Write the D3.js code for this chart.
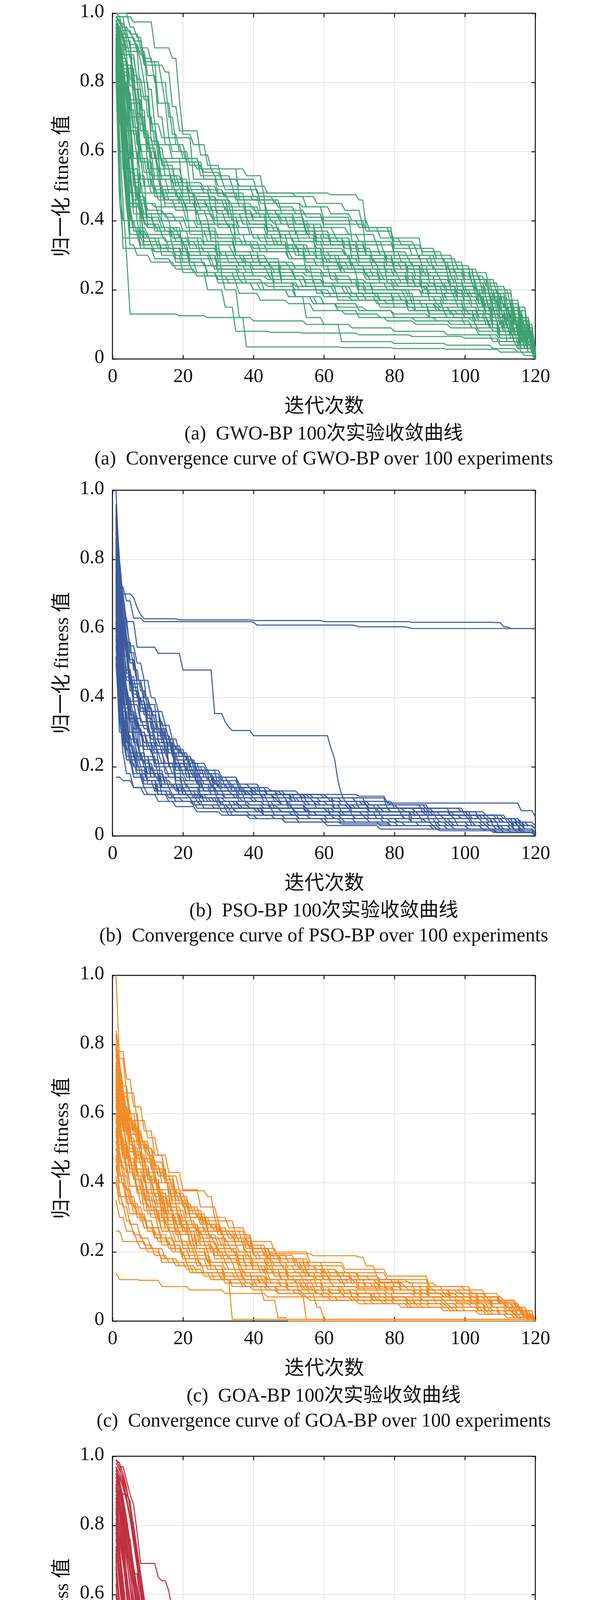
<!DOCTYPE html>
<html>
<head>
<meta charset="utf-8">
<script src="https://cdn.jsdelivr.net/npm/d3@7"></script>
<style>
  body { margin: 0; background: #fff; }
  svg { display: block; }
</style>
</head>
<body>
<svg id="chart" width="1575" height="6325"></svg>
<script>
// ---------- data ----------
const xTicks = [0, 20, 40, 60, 80, 100, 120];
const yTicks = [0, 0.2, 0.4, 0.6, 0.8, 1.0];
const yTickLabels = ["0", "0.2", "0.4", "0.6", "0.8", "1.0"];

// each run: [iteration, value, iteration, value, ...] at the steps of the curve
const gwoRuns = [
  [1,1.00, 2,0.99, 6,0.975, 12,0.90, 17,0.87, 19,0.75, 20,0.65, 23,0.62, 27,0.56, 31,0.52, 41,0.48, 62,0.475, 70,0.46, 72,0.38, 79,0.35, 88,0.30, 97,0.25, 103,0.22, 106,0.20, 113,0.15, 118,0.08, 120,0.02],
  [1,0.96, 3,0.93, 7,0.90, 9,0.85, 15,0.83, 17,0.73, 19,0.66, 25,0.59, 28,0.55, 38,0.53, 43,0.47, 55,0.44, 60,0.40, 72,0.37, 80,0.32, 87,0.29, 95,0.26, 103,0.20, 110,0.15, 116,0.10, 119,0.05, 120,0.02],
  [1,0.98, 3,0.92, 4,0.88, 7,0.80, 10,0.70, 12,0.62, 17,0.58, 22,0.50, 28,0.48, 38,0.42, 45,0.40, 55,0.36, 62,0.33, 70,0.29, 80,0.26, 88,0.24, 98,0.20, 105,0.17, 110,0.12, 116,0.06, 120,0.01],
  [1,0.95, 2,0.90, 3,0.75, 5,0.60, 8,0.52, 12,0.47, 20,0.44, 29,0.40, 36,0.38, 48,0.33, 56,0.30, 64,0.27, 72,0.24, 84,0.21, 94,0.17, 104,0.14, 112,0.10, 118,0.05, 120,0.01],
  [1,0.92, 2,0.85, 3,0.70, 4,0.55, 6,0.45, 9,0.40, 15,0.37, 22,0.33, 30,0.30, 42,0.27, 51,0.25, 60,0.22, 70,0.19, 82,0.17, 94,0.14, 103,0.11, 110,0.08, 116,0.04, 120,0.00],
  [1,0.97, 2,0.93, 3,0.88, 6,0.80, 8,0.72, 10,0.60, 12,0.52, 16,0.48, 24,0.46, 32,0.43, 40,0.40, 47,0.37, 58,0.34, 66,0.32, 74,0.28, 84,0.25, 93,0.23, 100,0.19, 108,0.15, 114,0.11, 119,0.04, 120,0.01],
  [1,0.90, 2,0.82, 3,0.65, 4,0.50, 5,0.40, 8,0.35, 13,0.32, 20,0.30, 28,0.27, 36,0.25, 45,0.23, 54,0.21, 63,0.19, 72,0.17, 84,0.15, 96,0.13, 106,0.10, 113,0.06, 118,0.03, 120,0.00],
  [1,0.99, 3,0.95, 4,0.93, 7,0.89, 10,0.82, 13,0.70, 15,0.62, 20,0.58, 25,0.53, 30,0.50, 35,0.46, 44,0.42, 52,0.39, 60,0.35, 68,0.31, 78,0.28, 86,0.24, 96,0.22, 104,0.18, 110,0.14, 116,0.08, 120,0.02],
  [1,0.94, 2,0.88, 3,0.80, 4,0.70, 6,0.58, 9,0.50, 13,0.46, 18,0.43, 25,0.39, 34,0.36, 42,0.34, 50,0.31, 58,0.29, 68,0.26, 76,0.23, 88,0.20, 98,0.17, 106,0.13, 112,0.09, 117,0.05, 120,0.01],
  [1,0.88, 2,0.78, 3,0.60, 4,0.45, 5,0.33, 7,0.30, 11,0.28, 18,0.26, 24,0.24, 33,0.22, 40,0.20, 52,0.18, 60,0.16, 70,0.14, 80,0.12, 92,0.11, 102,0.09, 110,0.06, 117,0.03, 120,0.00],
  [1,0.93, 2,0.90, 3,0.84, 5,0.75, 7,0.68, 10,0.62, 14,0.56, 18,0.50, 23,0.47, 30,0.45, 38,0.41, 48,0.39, 56,0.36, 64,0.34, 72,0.30, 80,0.27, 88,0.25, 96,0.21, 104,0.17, 110,0.12, 115,0.07, 119,0.03, 120,0.01],
  [1,0.85, 2,0.65, 3,0.45, 4,0.30, 5,0.13, 19,0.125, 27,0.12, 40,0.11, 55,0.10, 68,0.09, 80,0.08, 95,0.07, 108,0.05, 115,0.03, 120,0.00],
  [1,0.91, 2,0.84, 3,0.72, 4,0.60, 5,0.48, 8,0.41, 12,0.38, 17,0.35, 22,0.32, 30,0.29, 38,0.27, 46,0.25, 55,0.24, 64,0.22, 74,0.20, 83,0.18, 92,0.16, 100,0.14, 108,0.11, 114,0.08, 119,0.03, 120,0.01],
  [1,0.97, 2,0.95, 5,0.90, 8,0.86, 9,0.80, 11,0.66, 13,0.58, 16,0.55, 20,0.51, 26,0.49, 32,0.47, 40,0.46, 47,0.44, 52,0.42, 60,0.38, 67,0.36, 75,0.33, 85,0.30, 91,0.26, 100,0.23, 107,0.18, 112,0.14, 117,0.09, 120,0.03],
  [1,0.89, 2,0.80, 3,0.68, 4,0.55, 6,0.46, 9,0.42, 14,0.40, 20,0.37, 27,0.34, 35,0.30, 44,0.28, 52,0.26, 60,0.24, 68,0.22, 78,0.20, 88,0.18, 98,0.15, 104,0.12, 111,0.09, 116,0.05, 120,0.01],
  [1,0.95, 2,0.92, 3,0.85, 6,0.75, 9,0.65, 11,0.55, 14,0.49, 19,0.45, 24,0.42, 29,0.39, 36,0.36, 44,0.33, 53,0.30, 61,0.28, 69,0.25, 77,0.23, 86,0.21, 95,0.19, 102,0.16, 108,0.13, 114,0.10, 118,0.06, 120,0.02],
  [1,0.84, 2,0.72, 3,0.58, 4,0.46, 5,0.38, 8,0.33, 12,0.31, 18,0.28, 24,0.25, 30,0.22, 36,0.19, 42,0.17, 50,0.16, 57,0.14, 66,0.13, 76,0.12, 86,0.11, 96,0.10, 104,0.08, 110,0.06, 116,0.03, 120,0.00],
  [1,0.98, 2,0.96, 3,0.94, 5,0.91, 8,0.88, 10,0.78, 12,0.68, 14,0.64, 17,0.60, 21,0.57, 26,0.52, 30,0.48, 36,0.44, 42,0.41, 50,0.38, 58,0.35, 66,0.33, 72,0.30, 78,0.28, 84,0.26, 90,0.24, 97,0.22, 103,0.19, 108,0.16, 113,0.12, 117,0.07, 120,0.02],
  [1,0.90, 2,0.86, 3,0.78, 4,0.66, 5,0.55, 7,0.47, 10,0.43, 15,0.41, 21,0.38, 28,0.36, 35,0.34, 42,0.31, 50,0.29, 58,0.27, 66,0.25, 72,0.23, 80,0.21, 90,0.19, 100,0.17, 107,0.14, 112,0.10, 117,0.05, 120,0.01],
  [1,0.93, 2,0.88, 3,0.80, 4,0.68, 6,0.55, 8,0.45, 10,0.39, 14,0.36, 20,0.33, 26,0.31, 33,0.28, 40,0.26, 48,0.24, 55,0.22, 63,0.21, 72,0.19, 80,0.17, 88,0.15, 96,0.13, 104,0.11, 111,0.08, 116,0.05, 120,0.01],
  [1,0.96, 2,0.91, 3,0.86, 5,0.79, 7,0.71, 9,0.64, 12,0.58, 15,0.53, 20,0.50, 26,0.48, 33,0.45, 40,0.43, 47,0.41, 55,0.37, 62,0.34, 70,0.31, 78,0.29, 85,0.27, 92,0.25, 100,0.22, 106,0.19, 111,0.15, 116,0.10, 119,0.05, 120,0.02],
  [1,0.87, 2,0.76, 3,0.62, 4,0.50, 5,0.42, 6,0.37, 10,0.35, 16,0.32, 22,0.30, 30,0.27, 38,0.25, 46,0.22, 53,0.20, 60,0.18, 68,0.17, 76,0.15, 86,0.14, 95,0.12, 103,0.10, 110,0.07, 116,0.04, 120,0.00],
  [1,0.99, 2,0.97, 4,0.95, 6,0.92, 9,0.87, 12,0.80, 15,0.74, 17,0.65, 19,0.60, 22,0.56, 26,0.54, 31,0.52, 36,0.50, 44,0.48, 52,0.47, 58,0.45, 66,0.43, 71,0.38, 76,0.35, 82,0.33, 88,0.31, 94,0.28, 100,0.24, 106,0.21, 112,0.17, 116,0.12, 119,0.06, 120,0.02],
  [1,0.92, 2,0.87, 3,0.82, 4,0.74, 6,0.65, 8,0.57, 11,0.50, 15,0.46, 21,0.44, 28,0.41, 36,0.38, 44,0.35, 52,0.32, 60,0.30, 68,0.27, 76,0.25, 84,0.22, 92,0.20, 100,0.18, 106,0.15, 111,0.12, 116,0.07, 120,0.02],
  [1,0.85, 2,0.74, 3,0.60, 4,0.48, 5,0.40, 7,0.36, 11,0.33, 16,0.31, 22,0.29, 29,0.26, 36,0.23, 43,0.20, 50,0.18, 57,0.16, 64,0.15, 72,0.14, 80,0.13, 90,0.12, 100,0.10, 108,0.08, 114,0.05, 119,0.02, 120,0.00],
  [1,0.94, 2,0.89, 3,0.82, 5,0.72, 7,0.62, 9,0.54, 12,0.49, 16,0.46, 21,0.43, 27,0.40, 33,0.38, 40,0.35, 47,0.33, 55,0.31, 62,0.29, 70,0.27, 78,0.25, 86,0.23, 94,0.21, 101,0.18, 107,0.14, 112,0.11, 117,0.06, 120,0.01],
  [1,0.90, 2,0.83, 3,0.74, 4,0.63, 5,0.52, 6,0.44, 9,0.39, 13,0.37, 18,0.34, 24,0.32, 31,0.30, 38,0.28, 45,0.26, 52,0.23, 60,0.21, 67,0.19, 75,0.18, 84,0.16, 93,0.15, 101,0.13, 108,0.10, 114,0.07, 118,0.04, 120,0.01],
  [1,0.97, 2,0.94, 3,0.90, 4,0.85, 6,0.78, 8,0.70, 10,0.61, 13,0.55, 17,0.51, 22,0.48, 28,0.46, 34,0.44, 41,0.42, 48,0.40, 56,0.38, 63,0.36, 70,0.34, 77,0.31, 84,0.29, 90,0.27, 96,0.25, 102,0.22, 107,0.19, 112,0.16, 116,0.11, 119,0.05, 120,0.02],
  [1,0.88, 2,0.80, 3,0.66, 4,0.53, 5,0.43, 6,0.37, 9,0.34, 14,0.32, 20,0.28, 27,0.25, 35,0.22, 42,0.20, 50,0.18, 58,0.16, 64,0.14, 70,0.12, 78,0.11, 86,0.10, 96,0.09, 104,0.07, 110,0.05, 116,0.03, 120,0.00],
  [1,0.95, 2,0.91, 3,0.87, 5,0.81, 7,0.74, 9,0.66, 11,0.58, 14,0.52, 18,0.47, 24,0.44, 30,0.42, 37,0.39, 44,0.37, 51,0.34, 58,0.32, 66,0.30, 74,0.28, 82,0.26, 89,0.24, 96,0.22, 103,0.20, 109,0.16, 114,0.12, 118,0.07, 120,0.02],
  [1,0.91, 2,0.85, 3,0.76, 4,0.65, 5,0.54, 7,0.46, 10,0.41, 14,0.38, 19,0.35, 26,0.33, 34,0.31, 40,0.28, 48,0.26, 56,0.25, 64,0.23, 72,0.22, 80,0.20, 88,0.19, 95,0.17, 102,0.15, 108,0.12, 113,0.09, 118,0.04, 120,0.01],
  [1,0.89, 2,0.80, 3,0.67, 4,0.52, 6,0.42, 9,0.35, 14,0.30, 20,0.25, 27,0.20, 32,0.15, 35,0.08, 45,0.077, 54,0.075, 70,0.07, 85,0.065, 100,0.06, 110,0.04, 116,0.02, 120,0.00],
  [1,0.93, 2,0.86, 3,0.76, 4,0.62, 6,0.50, 8,0.42, 12,0.37, 17,0.33, 22,0.28, 27,0.24, 32,0.20, 36,0.12, 38,0.035, 65,0.033, 80,0.03, 95,0.028, 110,0.02, 117,0.01, 120,0.00],
  [1,0.96, 2,0.92, 3,0.86, 4,0.77, 6,0.67, 8,0.58, 11,0.50, 15,0.44, 21,0.40, 28,0.35, 35,0.31, 42,0.27, 48,0.22, 52,0.18, 55,0.12, 60,0.10, 65,0.05, 80,0.045, 95,0.04, 108,0.03, 115,0.02, 120,0.00],
  [1,0.98, 2,0.95, 3,0.92, 5,0.87, 7,0.81, 9,0.75, 11,0.68, 13,0.61, 15,0.55, 18,0.50, 22,0.46, 27,0.44, 33,0.41, 39,0.39, 46,0.37, 53,0.34, 60,0.31, 67,0.29, 74,0.26, 81,0.24, 88,0.22, 95,0.20, 102,0.18, 108,0.15, 113,0.11, 117,0.07, 120,0.02],
  [1,0.86, 2,0.73, 3,0.56, 4,0.44, 5,0.36, 8,0.32, 12,0.29, 17,0.27, 23,0.25, 30,0.23, 37,0.22, 44,0.21, 52,0.20, 60,0.19, 68,0.18, 76,0.17, 84,0.16, 92,0.15, 100,0.14, 106,0.12, 112,0.09, 117,0.05, 120,0.01],
  [1,0.94, 2,0.90, 3,0.84, 4,0.76, 5,0.66, 7,0.58, 10,0.52, 14,0.48, 19,0.46, 25,0.43, 32,0.40, 39,0.36, 46,0.33, 53,0.31, 60,0.28, 67,0.26, 74,0.24, 82,0.22, 90,0.21, 98,0.19, 104,0.16, 110,0.13, 115,0.09, 119,0.04, 120,0.01],
  [1,0.92, 2,0.86, 3,0.79, 4,0.70, 5,0.60, 6,0.51, 9,0.45, 13,0.42, 18,0.40, 24,0.38, 30,0.35, 37,0.33, 44,0.31, 51,0.29, 58,0.27, 65,0.25, 73,0.23, 81,0.21, 89,0.20, 97,0.18, 104,0.16, 110,0.12, 115,0.08, 119,0.03, 120,0.01],
  [1,0.99, 2,0.98, 3,0.96, 5,0.94, 8,0.90, 11,0.86, 14,0.80, 16,0.70, 18,0.62, 21,0.58, 25,0.55, 29,0.53, 34,0.50, 40,0.47, 46,0.45, 54,0.44, 62,0.42, 68,0.40, 73,0.37, 80,0.34, 86,0.32, 92,0.29, 98,0.26, 104,0.23, 109,0.19, 114,0.14, 118,0.08, 120,0.03],
  [1,0.87, 2,0.77, 3,0.64, 4,0.52, 5,0.44, 6,0.38, 10,0.36, 15,0.34, 21,0.31, 28,0.29, 36,0.27, 44,0.25, 52,0.23, 60,0.21, 68,0.19, 76,0.17, 84,0.16, 92,0.14, 100,0.12, 107,0.10, 113,0.07, 118,0.03, 120,0.00],
  [1,0.93, 3,0.55, 8,0.50, 20,0.47, 30,0.38, 48,0.35, 58,0.29, 75,0.27, 88,0.19, 105,0.15, 113,0.10, 118,0.04, 120,0.01],
  [1,0.97, 2,0.88, 5,0.72, 7,0.62, 14,0.40, 26,0.33, 40,0.31, 55,0.25, 70,0.21, 90,0.17, 100,0.13, 110,0.12, 116,0.05, 120,0.01],
  [1,0.89, 2,0.60, 5,0.45, 12,0.44, 22,0.36, 38,0.33, 50,0.29, 62,0.28, 78,0.22, 90,0.21, 104,0.18, 111,0.09, 117,0.03, 120,0.00],
  [1,0.99, 4,0.92, 6,0.78, 9,0.64, 12,0.58, 20,0.48, 32,0.47, 44,0.37, 56,0.35, 66,0.30, 80,0.25, 96,0.20, 106,0.13, 114,0.07, 120,0.01],
  [1,0.86, 2,0.58, 3,0.32, 12,0.31, 22,0.27, 30,0.26, 46,0.20, 62,0.18, 75,0.16, 90,0.13, 103,0.11, 112,0.05, 118,0.02, 120,0.00],
  [1,0.95, 3,0.80, 5,0.66, 8,0.48, 15,0.45, 27,0.44, 35,0.33, 52,0.30, 65,0.26, 80,0.24, 92,0.19, 105,0.16, 112,0.13, 117,0.06, 120,0.01],
  [1,0.92, 2,0.70, 4,0.60, 6,0.53, 10,0.38, 18,0.37, 30,0.28, 45,0.27, 57,0.22, 72,0.20, 85,0.16, 100,0.14, 110,0.10, 116,0.05, 120,0.00],
  [1,1.00, 5,0.96, 7,0.93, 9,0.86, 13,0.74, 16,0.64, 23,0.52, 32,0.49, 42,0.45, 54,0.40, 70,0.38, 80,0.29, 95,0.25, 107,0.20, 114,0.12, 119,0.05, 120,0.02],
  [1,0.84, 2,0.50, 3,0.40, 10,0.38, 20,0.31, 35,0.29, 48,0.23, 60,0.22, 74,0.19, 86,0.14, 98,0.13, 108,0.09, 115,0.04, 120,0.00],
  [1,0.96, 2,0.91, 4,0.84, 7,0.70, 10,0.55, 17,0.49, 28,0.43, 40,0.41, 52,0.36, 60,0.33, 76,0.30, 88,0.26, 98,0.23, 108,0.17, 114,0.10, 119,0.04, 120,0.01],
  [1,0.90, 2,0.74, 3,0.55, 7,0.40, 17,0.35, 25,0.30, 37,0.28, 50,0.27, 62,0.23, 70,0.20, 84,0.18, 94,0.16, 106,0.13, 113,0.08, 118,0.03, 120,0.00],
  [1,0.98, 2,0.93, 4,0.89, 8,0.76, 11,0.63, 14,0.57, 24,0.55, 36,0.46, 48,0.42, 60,0.39, 72,0.31, 82,0.28, 96,0.24, 105,0.19, 111,0.15, 116,0.09, 120,0.02],
  [1,0.88, 2,0.68, 4,0.45, 8,0.42, 16,0.40, 28,0.34, 40,0.32, 55,0.28, 65,0.25, 76,0.22, 88,0.20, 100,0.15, 109,0.11, 116,0.06, 120,0.01],
  [1,0.94, 2,0.87, 3,0.76, 5,0.58, 8,0.36, 20,0.34, 31,0.24, 44,0.23, 58,0.19, 70,0.17, 84,0.14, 97,0.12, 107,0.09, 114,0.05, 120,0.00],
  [1,0.91, 3,0.85, 5,0.74, 8,0.60, 13,0.52, 22,0.45, 34,0.40, 46,0.39, 58,0.34, 68,0.29, 78,0.27, 90,0.22, 100,0.19, 109,0.14, 115,0.09, 119,0.03, 120,0.01],
  [1,0.82, 2,0.46, 3,0.35, 9,0.33, 18,0.29, 26,0.27, 40,0.24, 55,0.21, 66,0.19, 80,0.15, 93,0.14, 104,0.12, 111,0.08, 117,0.03, 120,0.00],
  [1,0.97, 2,0.94, 4,0.90, 6,0.82, 8,0.66, 11,0.53, 19,0.50, 30,0.47, 42,0.43, 55,0.41, 68,0.34, 80,0.30, 92,0.27, 102,0.22, 110,0.16, 116,0.10, 120,0.02],
  [1,0.93, 2,0.82, 4,0.66, 6,0.52, 11,0.48, 24,0.39, 35,0.36, 50,0.32, 60,0.26, 72,0.24, 86,0.21, 98,0.18, 108,0.14, 114,0.08, 119,0.03, 120,0.00],
  [1,0.87, 2,0.72, 3,0.58, 5,0.44, 9,0.32, 18,0.30, 30,0.25, 38,0.22, 52,0.21, 64,0.17, 78,0.16, 90,0.12, 102,0.11, 110,0.07, 116,0.03, 120,0.00],
  [1,0.95, 2,0.90, 3,0.83, 5,0.70, 8,0.57, 12,0.48, 20,0.46, 33,0.42, 44,0.36, 58,0.33, 70,0.28, 84,0.23, 96,0.21, 106,0.18, 112,0.12, 117,0.07, 120,0.01]
];

const psoRuns = [
  [1,1.00, 2,0.76, 3,0.70, 6,0.69, 7,0.66, 8,0.64, 9,0.628, 19,0.625, 40,0.623, 60,0.62, 85,0.618, 109,0.617, 111,0.605, 113,0.60, 120,0.60],
  [1,0.90, 2,0.72, 4,0.68, 6,0.63, 9,0.62, 40,0.618, 41,0.61, 69,0.608, 70,0.605, 84,0.603, 85,0.60, 120,0.60],
  [1,0.95, 2,0.70, 4,0.62, 7,0.546, 13,0.528, 20,0.48, 29,0.354, 32,0.33, 33,0.315, 34,0.305, 40,0.29, 62,0.254, 63,0.224, 64,0.16, 65,0.12, 70,0.115, 78,0.095, 116,0.073, 120,0.056],
  [1,0.92, 2,0.60, 3,0.45, 4,0.38, 6,0.30, 9,0.25, 12,0.20, 16,0.17, 21,0.14, 28,0.12, 36,0.10, 46,0.08, 56,0.06, 69,0.05, 81,0.04, 96,0.03, 111,0.02, 120,0.01],
  [1,0.85, 2,0.55, 3,0.40, 5,0.30, 7,0.22, 10,0.18, 14,0.15, 19,0.12, 26,0.10, 34,0.08, 43,0.06, 53,0.05, 66,0.04, 81,0.03, 101,0.02, 116,0.01, 120,0.00],
  [1,0.78, 2,0.62, 3,0.52, 4,0.45, 6,0.38, 8,0.33, 11,0.28, 14,0.24, 18,0.21, 23,0.18, 29,0.15, 35,0.13, 41,0.12, 51,0.10, 61,0.09, 73,0.07, 86,0.06, 99,0.05, 109,0.04, 116,0.03, 120,0.02],
  [1,0.70, 2,0.50, 3,0.36, 5,0.26, 7,0.20, 10,0.16, 13,0.13, 17,0.11, 23,0.09, 31,0.07, 39,0.06, 49,0.05, 61,0.04, 76,0.03, 91,0.02, 106,0.015, 120,0.01],
  [1,0.88, 2,0.68, 3,0.58, 4,0.52, 5,0.46, 7,0.40, 9,0.35, 12,0.30, 15,0.26, 18,0.22, 21,0.19, 25,0.16, 30,0.14, 36,0.12, 43,0.10, 51,0.08, 61,0.07, 71,0.06, 83,0.05, 96,0.04, 107,0.03, 116,0.02, 120,0.01],
  [1,0.65, 2,0.45, 3,0.32, 4,0.25, 6,0.20, 9,0.16, 12,0.13, 16,0.11, 20,0.10, 26,0.08, 33,0.06, 41,0.05, 53,0.04, 65,0.035, 79,0.03, 93,0.02, 109,0.01, 120,0.005],
  [1,0.80, 2,0.66, 3,0.55, 4,0.48, 6,0.42, 8,0.37, 10,0.33, 13,0.29, 16,0.26, 19,0.23, 22,0.20, 26,0.17, 31,0.15, 37,0.13, 44,0.12, 51,0.11, 59,0.10, 67,0.09, 76,0.08, 86,0.07, 96,0.06, 104,0.05, 111,0.04, 117,0.03, 120,0.02],
  [1,0.75, 2,0.55, 3,0.42, 4,0.34, 6,0.28, 8,0.23, 11,0.19, 15,0.15, 20,0.12, 26,0.10, 32,0.08, 41,0.07, 51,0.06, 63,0.05, 77,0.04, 91,0.03, 105,0.02, 115,0.01, 120,0.00],
  [1,0.90, 2,0.72, 3,0.62, 4,0.55, 5,0.50, 7,0.44, 9,0.40, 11,0.36, 14,0.30, 16,0.24, 19,0.20, 22,0.17, 26,0.15, 31,0.13, 38,0.12, 46,0.10, 56,0.09, 67,0.08, 79,0.07, 91,0.06, 101,0.05, 109,0.04, 115,0.03, 120,0.02],
  [1,0.60, 2,0.40, 3,0.28, 4,0.22, 6,0.17, 9,0.14, 13,0.12, 18,0.10, 25,0.09, 33,0.08, 43,0.07, 53,0.06, 65,0.05, 79,0.04, 93,0.03, 107,0.02, 117,0.01, 120,0.00],
  [1,0.82, 2,0.70, 3,0.60, 4,0.53, 5,0.47, 6,0.42, 8,0.38, 10,0.34, 12,0.31, 15,0.28, 18,0.25, 21,0.22, 24,0.19, 27,0.16, 31,0.14, 37,0.12, 43,0.11, 51,0.10, 59,0.09, 68,0.08, 77,0.07, 87,0.06, 97,0.05, 105,0.04, 113,0.03, 120,0.02],
  [1,0.72, 2,0.52, 3,0.40, 4,0.33, 5,0.28, 7,0.24, 9,0.21, 12,0.18, 15,0.15, 19,0.13, 24,0.11, 30,0.09, 37,0.08, 46,0.06, 56,0.05, 69,0.04, 83,0.03, 97,0.02, 111,0.01, 120,0.00],
  [1,0.95, 2,0.75, 3,0.64, 4,0.56, 6,0.48, 8,0.42, 10,0.37, 12,0.33, 15,0.29, 17,0.26, 20,0.23, 23,0.20, 27,0.18, 31,0.16, 36,0.14, 41,0.13, 48,0.12, 56,0.11, 63,0.10, 71,0.09, 81,0.08, 91,0.07, 101,0.06, 109,0.05, 115,0.04, 118,0.03, 120,0.02],
  [1,0.55, 2,0.38, 3,0.30, 5,0.24, 7,0.20, 10,0.18, 13,0.16, 17,0.14, 21,0.12, 26,0.11, 32,0.10, 39,0.09, 47,0.08, 56,0.07, 66,0.06, 77,0.05, 89,0.04, 101,0.03, 111,0.02, 120,0.01],
  [1,0.86, 2,0.64, 3,0.50, 4,0.42, 5,0.36, 7,0.31, 9,0.27, 11,0.24, 14,0.21, 17,0.18, 21,0.16, 25,0.14, 30,0.12, 35,0.11, 41,0.10, 48,0.09, 55,0.08, 63,0.07, 73,0.06, 83,0.05, 93,0.04, 103,0.03, 113,0.02, 120,0.01],
  [1,0.68, 2,0.48, 3,0.36, 4,0.29, 6,0.24, 8,0.20, 11,0.17, 14,0.15, 18,0.13, 23,0.11, 29,0.10, 36,0.09, 45,0.08, 55,0.07, 65,0.06, 77,0.05, 89,0.04, 101,0.03, 113,0.02, 120,0.01],
  [1,0.77, 2,0.63, 3,0.54, 4,0.48, 6,0.43, 8,0.39, 10,0.35, 13,0.31, 15,0.28, 17,0.24, 19,0.20, 22,0.17, 25,0.15, 29,0.13, 34,0.12, 40,0.11, 47,0.10, 55,0.09, 63,0.08, 73,0.07, 85,0.06, 97,0.05, 107,0.04, 115,0.03, 120,0.02],
  [1,0.64, 2,0.44, 3,0.31, 4,0.23, 6,0.18, 9,0.15, 13,0.12, 18,0.10, 23,0.09, 29,0.08, 35,0.07, 43,0.06, 53,0.05, 65,0.04, 79,0.03, 95,0.02, 109,0.01, 120,0.00],
  [1,0.91, 2,0.78, 3,0.67, 4,0.58, 5,0.51, 7,0.45, 9,0.40, 11,0.36, 14,0.32, 16,0.28, 18,0.25, 21,0.22, 24,0.19, 28,0.17, 33,0.15, 39,0.14, 45,0.13, 53,0.12, 61,0.11, 69,0.10, 79,0.09, 89,0.08, 99,0.07, 106,0.06, 111,0.05, 116,0.04, 120,0.03],
  [1,0.58, 2,0.42, 3,0.33, 4,0.27, 6,0.23, 9,0.20, 12,0.17, 16,0.14, 21,0.12, 27,0.10, 34,0.08, 42,0.07, 51,0.06, 61,0.05, 73,0.04, 87,0.03, 101,0.02, 113,0.01, 120,0.00],
  [1,0.74, 2,0.57, 3,0.47, 4,0.40, 5,0.35, 7,0.30, 9,0.27, 12,0.24, 15,0.21, 19,0.19, 23,0.17, 28,0.15, 34,0.13, 41,0.12, 49,0.11, 57,0.10, 65,0.09, 73,0.08, 83,0.07, 93,0.06, 101,0.05, 109,0.04, 117,0.03, 120,0.02],
  [1,0.83, 2,0.58, 3,0.43, 4,0.34, 6,0.27, 8,0.22, 11,0.18, 15,0.15, 19,0.13, 25,0.11, 31,0.09, 39,0.08, 48,0.07, 58,0.06, 69,0.05, 81,0.04, 95,0.03, 109,0.02, 120,0.01],
  [1,0.69, 2,0.54, 3,0.46, 4,0.40, 6,0.34, 8,0.30, 10,0.27, 13,0.24, 16,0.21, 20,0.18, 24,0.15, 28,0.13, 32,0.11, 37,0.10, 43,0.09, 51,0.08, 61,0.07, 71,0.06, 83,0.05, 95,0.04, 107,0.03, 117,0.02, 120,0.01],
  [1,0.62, 2,0.36, 3,0.24, 4,0.18, 6,0.14, 9,0.12, 13,0.10, 18,0.085, 24,0.07, 31,0.06, 39,0.05, 49,0.04, 61,0.03, 76,0.02, 93,0.015, 109,0.01, 120,0.005],
  [1,0.88, 2,0.71, 3,0.60, 4,0.52, 5,0.46, 6,0.41, 8,0.37, 10,0.34, 12,0.31, 14,0.28, 17,0.25, 20,0.23, 23,0.21, 27,0.19, 31,0.17, 36,0.15, 42,0.13, 49,0.12, 57,0.11, 65,0.10, 73,0.09, 81,0.08, 89,0.07, 97,0.06, 105,0.05, 111,0.04, 117,0.03, 120,0.02],
  [1,0.50, 2,0.34, 3,0.26, 5,0.21, 7,0.18, 10,0.16, 14,0.14, 19,0.12, 25,0.10, 31,0.09, 39,0.08, 48,0.07, 58,0.06, 69,0.05, 81,0.04, 93,0.03, 105,0.02, 115,0.01, 120,0.00],
  [1,0.79, 2,0.61, 3,0.50, 4,0.43, 5,0.38, 7,0.34, 9,0.31, 11,0.28, 13,0.26, 15,0.24, 18,0.21, 21,0.19, 25,0.17, 29,0.15, 34,0.13, 39,0.12, 46,0.11, 53,0.10, 61,0.09, 69,0.08, 79,0.07, 89,0.06, 99,0.05, 107,0.04, 114,0.03, 120,0.02],
  [1,0.66, 2,0.47, 3,0.35, 4,0.28, 5,0.23, 7,0.19, 10,0.16, 13,0.14, 17,0.12, 22,0.11, 28,0.10, 35,0.09, 43,0.08, 52,0.07, 62,0.06, 73,0.05, 85,0.04, 97,0.03, 109,0.02, 117,0.01, 120,0.00],
  [1,0.96, 2,0.80, 3,0.69, 4,0.61, 5,0.55, 7,0.50, 9,0.45, 11,0.40, 13,0.36, 15,0.32, 17,0.28, 19,0.24, 22,0.21, 25,0.18, 29,0.16, 34,0.14, 40,0.13, 47,0.12, 54,0.11, 62,0.10, 71,0.09, 81,0.08, 91,0.07, 101,0.06, 107,0.05, 113,0.04, 118,0.03, 120,0.02],
  [1,0.17, 3,0.16, 6,0.14, 10,0.12, 16,0.10, 24,0.08, 34,0.06, 46,0.05, 60,0.04, 76,0.03, 92,0.02, 108,0.01, 120,0.00],
  [1,0.74, 2,0.42, 4,0.30, 8,0.22, 14,0.14, 25,0.12, 38,0.09, 55,0.07, 75,0.05, 98,0.03, 114,0.02, 120,0.01],
  [1,0.88, 2,0.58, 3,0.46, 6,0.40, 11,0.31, 16,0.20, 24,0.15, 33,0.13, 47,0.11, 63,0.08, 82,0.06, 102,0.04, 114,0.02, 120,0.01],
  [1,0.62, 2,0.33, 5,0.24, 10,0.15, 22,0.13, 30,0.10, 45,0.08, 62,0.06, 85,0.04, 105,0.03, 116,0.01, 120,0.00],
  [1,0.81, 2,0.66, 3,0.57, 5,0.45, 9,0.38, 13,0.27, 18,0.19, 28,0.17, 36,0.13, 48,0.12, 66,0.10, 80,0.08, 100,0.06, 112,0.04, 118,0.03, 120,0.02],
  [1,0.70, 2,0.52, 3,0.38, 6,0.30, 10,0.25, 15,0.18, 25,0.11, 40,0.10, 58,0.08, 76,0.06, 94,0.05, 108,0.03, 117,0.02, 120,0.01],
  [1,0.93, 2,0.69, 3,0.55, 5,0.44, 8,0.36, 12,0.28, 17,0.23, 22,0.19, 30,0.14, 42,0.12, 55,0.10, 72,0.09, 88,0.07, 104,0.05, 115,0.03, 120,0.02],
  [1,0.57, 2,0.41, 4,0.34, 7,0.26, 12,0.20, 20,0.12, 32,0.11, 48,0.09, 68,0.07, 90,0.04, 110,0.02, 120,0.01],
  [1,0.76, 2,0.50, 3,0.41, 5,0.34, 8,0.29, 13,0.21, 20,0.18, 28,0.14, 38,0.12, 52,0.10, 70,0.08, 90,0.06, 106,0.05, 116,0.03, 120,0.02],
  [1,0.84, 2,0.62, 3,0.52, 5,0.42, 8,0.33, 12,0.25, 18,0.16, 26,0.13, 36,0.11, 50,0.09, 65,0.07, 85,0.05, 102,0.03, 114,0.02, 120,0.00],
  [1,0.67, 2,0.46, 3,0.37, 6,0.31, 9,0.23, 13,0.17, 20,0.14, 30,0.12, 44,0.10, 58,0.09, 75,0.07, 92,0.05, 108,0.04, 117,0.02, 120,0.01],
  [1,0.90, 2,0.74, 3,0.63, 5,0.53, 7,0.45, 10,0.36, 14,0.27, 18,0.22, 24,0.17, 32,0.14, 44,0.12, 60,0.11, 78,0.08, 96,0.06, 110,0.04, 118,0.03, 120,0.02],
  [1,0.52, 2,0.30, 4,0.22, 8,0.17, 14,0.12, 24,0.10, 36,0.08, 52,0.06, 72,0.05, 92,0.03, 110,0.02, 120,0.01],
  [1,0.79, 2,0.57, 4,0.47, 6,0.39, 10,0.30, 15,0.24, 21,0.17, 29,0.13, 40,0.12, 54,0.10, 70,0.08, 86,0.07, 102,0.05, 114,0.03, 120,0.02],
  [1,0.71, 2,0.49, 3,0.40, 5,0.33, 8,0.26, 12,0.21, 18,0.15, 26,0.13, 36,0.11, 50,0.08, 68,0.06, 88,0.04, 106,0.03, 116,0.01, 120,0.00],
  [1,0.86, 2,0.65, 3,0.49, 4,0.39, 7,0.32, 11,0.26, 16,0.21, 22,0.16, 30,0.14, 40,0.12, 55,0.11, 72,0.09, 90,0.07, 104,0.05, 114,0.03, 120,0.02]
];

const goaRuns = [
  [1,1.00, 2,0.75, 3,0.68, 5,0.60, 8,0.52, 11,0.45, 14,0.40, 18,0.34, 22,0.30, 27,0.26, 32,0.22, 38,0.18, 44,0.15, 50,0.12, 57,0.10, 65,0.08, 75,0.06, 85,0.05, 95,0.04, 105,0.03, 112,0.02, 117,0.01, 120,0.00],
  [1,0.84, 2,0.78, 4,0.70, 6,0.62, 9,0.55, 12,0.48, 15,0.42, 19,0.377, 27,0.36, 29,0.30, 33,0.27, 38,0.245, 40,0.20, 46,0.18, 53,0.15, 60,0.13, 68,0.11, 78,0.09, 88,0.07, 98,0.055, 108,0.04, 115,0.02, 118,0.005, 120,0.00],
  [1,0.76, 3,0.76, 4,0.66, 7,0.58, 10,0.53, 13,0.48, 16,0.43, 20,0.38, 25,0.33, 30,0.29, 35,0.25, 40,0.21, 45,0.18, 52,0.16, 58,0.14, 65,0.12, 72,0.10, 80,0.08, 90,0.07, 100,0.06, 108,0.05, 113,0.03, 117,0.01, 120,0.00],
  [1,0.70, 2,0.62, 4,0.55, 6,0.48, 9,0.42, 12,0.36, 16,0.31, 20,0.27, 25,0.23, 30,0.20, 36,0.17, 42,0.14, 48,0.12, 55,0.10, 62,0.08, 70,0.07, 80,0.06, 90,0.05, 100,0.04, 108,0.03, 114,0.02, 118,0.01, 120,0.00],
  [1,0.65, 2,0.56, 3,0.50, 5,0.44, 8,0.38, 11,0.33, 15,0.29, 19,0.25, 24,0.22, 29,0.19, 34,0.17, 40,0.15, 46,0.13, 52,0.11, 60,0.09, 68,0.08, 78,0.07, 88,0.06, 98,0.05, 106,0.04, 112,0.02, 116,0.01, 120,0.00],
  [1,0.58, 2,0.50, 4,0.43, 7,0.37, 10,0.31, 13,0.27, 17,0.23, 22,0.20, 27,0.17, 33,0.15, 38,0.13, 44,0.11, 50,0.09, 58,0.08, 66,0.07, 76,0.06, 86,0.05, 96,0.04, 104,0.03, 110,0.02, 115,0.01, 120,0.00],
  [1,0.80, 2,0.70, 3,0.62, 5,0.56, 7,0.52, 10,0.50, 12,0.48, 15,0.42, 18,0.37, 21,0.33, 24,0.30, 28,0.27, 31,0.25, 36,0.23, 40,0.19, 45,0.17, 50,0.15, 56,0.13, 62,0.11, 70,0.095, 80,0.08, 90,0.07, 100,0.06, 108,0.05, 114,0.03, 118,0.01, 120,0.00],
  [1,0.52, 2,0.45, 4,0.38, 6,0.33, 9,0.29, 12,0.25, 16,0.22, 20,0.19, 25,0.16, 30,0.14, 35,0.12, 41,0.10, 47,0.08, 54,0.07, 62,0.06, 72,0.05, 82,0.04, 94,0.03, 104,0.02, 112,0.01, 120,0.00],
  [1,0.72, 2,0.64, 3,0.58, 5,0.53, 7,0.47, 10,0.42, 13,0.37, 16,0.33, 20,0.29, 24,0.26, 28,0.24, 33,0.22, 38,0.20, 42,0.18, 48,0.16, 54,0.14, 60,0.12, 67,0.11, 74,0.10, 82,0.09, 90,0.08, 98,0.07, 106,0.06, 112,0.05, 116,0.02, 119,0.005, 120,0.00],
  [1,0.45, 2,0.38, 3,0.33, 5,0.28, 8,0.24, 11,0.21, 15,0.18, 19,0.16, 24,0.14, 29,0.12, 34,0.10, 40,0.09, 47,0.08, 55,0.07, 64,0.06, 74,0.05, 85,0.04, 96,0.03, 106,0.02, 114,0.01, 120,0.00],
  [1,0.68, 2,0.60, 4,0.54, 6,0.50, 9,0.46, 12,0.40, 14,0.35, 17,0.30, 20,0.26, 23,0.23, 27,0.20, 32,0.17, 37,0.14, 40,0.10, 43,0.06, 47,0.01, 50,0.00, 120,0.00],
  [1,0.62, 2,0.55, 3,0.49, 5,0.43, 7,0.38, 10,0.33, 13,0.29, 16,0.26, 20,0.22, 24,0.19, 28,0.16, 32,0.12, 34,0.005, 120,0.00],
  [1,0.78, 2,0.72, 3,0.66, 5,0.60, 7,0.55, 9,0.50, 12,0.46, 15,0.41, 18,0.36, 22,0.32, 26,0.28, 30,0.25, 35,0.22, 40,0.20, 46,0.195, 57,0.189, 70,0.185, 72,0.16, 75,0.13, 76,0.113, 85,0.11, 86,0.08, 95,0.07, 104,0.06, 110,0.05, 115,0.03, 118,0.01, 120,0.00],
  [1,0.55, 2,0.48, 3,0.42, 5,0.36, 7,0.31, 10,0.27, 14,0.24, 18,0.21, 22,0.18, 27,0.15, 32,0.13, 38,0.11, 44,0.10, 50,0.09, 58,0.08, 66,0.07, 74,0.06, 84,0.05, 94,0.04, 104,0.03, 112,0.02, 117,0.01, 120,0.00],
  [1,0.14, 2,0.12, 8,0.118, 14,0.10, 22,0.09, 32,0.08, 44,0.07, 56,0.06, 70,0.05, 84,0.04, 98,0.03, 110,0.02, 118,0.01, 120,0.00],
  [1,0.74, 2,0.66, 3,0.60, 4,0.55, 6,0.50, 8,0.45, 11,0.40, 14,0.36, 17,0.32, 21,0.28, 25,0.25, 29,0.22, 34,0.20, 39,0.18, 44,0.16, 49,0.15, 55,0.13, 62,0.12, 70,0.10, 78,0.09, 86,0.08, 94,0.07, 102,0.06, 110,0.05, 114,0.04, 117,0.02, 120,0.00],
  [1,0.60, 2,0.53, 4,0.47, 6,0.41, 9,0.36, 12,0.31, 15,0.27, 19,0.23, 23,0.20, 28,0.17, 33,0.15, 38,0.13, 44,0.12, 50,0.10, 56,0.08, 58,0.04, 60,0.005, 120,0.00],
  [1,0.82, 2,0.74, 3,0.67, 4,0.61, 6,0.56, 8,0.52, 10,0.48, 12,0.44, 15,0.40, 18,0.35, 21,0.31, 25,0.28, 29,0.26, 34,0.24, 38,0.22, 43,0.19, 48,0.17, 54,0.15, 60,0.14, 66,0.13, 73,0.12, 80,0.10, 88,0.09, 96,0.08, 104,0.07, 110,0.06, 115,0.04, 118,0.02, 120,0.00],
  [1,0.48, 2,0.42, 4,0.36, 6,0.31, 9,0.27, 12,0.24, 16,0.21, 20,0.18, 25,0.16, 30,0.14, 36,0.12, 42,0.11, 48,0.10, 55,0.09, 62,0.08, 70,0.07, 78,0.06, 88,0.05, 98,0.04, 106,0.03, 112,0.02, 117,0.01, 120,0.00],
  [1,0.66, 2,0.58, 3,0.52, 5,0.47, 7,0.42, 9,0.38, 12,0.34, 15,0.31, 18,0.28, 21,0.25, 25,0.22, 29,0.20, 33,0.18, 38,0.16, 43,0.14, 48,0.12, 53,0.08, 55,0.005, 120,0.00],
  [1,0.70, 2,0.63, 3,0.57, 5,0.51, 7,0.46, 10,0.41, 13,0.37, 16,0.33, 19,0.30, 23,0.27, 27,0.24, 31,0.22, 36,0.20, 41,0.18, 46,0.16, 52,0.14, 58,0.12, 65,0.11, 72,0.10, 80,0.09, 88,0.08, 96,0.07, 104,0.06, 110,0.05, 114,0.03, 117,0.01, 120,0.00],
  [1,0.56, 2,0.49, 3,0.44, 5,0.39, 8,0.34, 11,0.30, 14,0.26, 18,0.23, 22,0.20, 27,0.17, 32,0.15, 37,0.13, 43,0.11, 50,0.10, 57,0.09, 65,0.08, 74,0.07, 84,0.06, 94,0.05, 102,0.04, 108,0.03, 114,0.02, 118,0.01, 120,0.00],
  [1,0.77, 2,0.69, 3,0.63, 4,0.58, 6,0.54, 8,0.50, 10,0.46, 13,0.42, 16,0.38, 19,0.34, 22,0.31, 26,0.28, 30,0.26, 35,0.24, 40,0.21, 45,0.19, 50,0.17, 55,0.15, 61,0.13, 68,0.12, 75,0.11, 83,0.10, 91,0.09, 99,0.08, 106,0.07, 111,0.06, 115,0.04, 118,0.02, 120,0.00],
  [1,0.40, 2,0.34, 4,0.29, 6,0.25, 9,0.22, 12,0.19, 16,0.17, 21,0.15, 26,0.13, 32,0.11, 38,0.10, 45,0.09, 52,0.08, 60,0.07, 68,0.06, 77,0.05, 87,0.04, 97,0.03, 107,0.02, 115,0.01, 120,0.00],
  [1,0.64, 2,0.57, 3,0.51, 5,0.46, 7,0.42, 10,0.37, 13,0.33, 16,0.29, 20,0.26, 24,0.23, 28,0.20, 33,0.18, 38,0.16, 44,0.14, 50,0.12, 56,0.11, 63,0.10, 70,0.09, 78,0.08, 86,0.07, 94,0.06, 102,0.05, 108,0.04, 113,0.03, 117,0.01, 120,0.00],
  [1,0.72, 2,0.67, 3,0.62, 5,0.58, 7,0.54, 9,0.50, 11,0.46, 13,0.42, 16,0.38, 19,0.34, 22,0.31, 25,0.28, 29,0.26, 33,0.25, 36,0.23, 40,0.21, 44,0.19, 48,0.18, 52,0.16, 58,0.15, 64,0.14, 70,0.13, 76,0.12, 84,0.11, 92,0.10, 100,0.09, 106,0.07, 111,0.06, 115,0.04, 118,0.02, 120,0.00],
  [1,0.50, 2,0.44, 3,0.39, 5,0.34, 7,0.30, 10,0.26, 13,0.23, 17,0.20, 21,0.17, 26,0.14, 31,0.12, 37,0.10, 44,0.09, 52,0.08, 60,0.07, 69,0.06, 78,0.05, 88,0.04, 98,0.03, 108,0.02, 115,0.01, 120,0.00],
  [1,0.80, 2,0.71, 3,0.64, 4,0.59, 6,0.55, 8,0.51, 10,0.48, 12,0.45, 14,0.42, 17,0.38, 20,0.34, 23,0.31, 27,0.28, 31,0.25, 35,0.23, 39,0.21, 44,0.19, 50,0.17, 56,0.15, 62,0.13, 68,0.12, 75,0.11, 82,0.10, 90,0.09, 98,0.08, 104,0.07, 110,0.055, 115,0.04, 118,0.015, 120,0.00],
  [1,0.35, 2,0.30, 4,0.26, 7,0.23, 10,0.20, 14,0.18, 18,0.16, 23,0.14, 28,0.12, 34,0.11, 40,0.10, 47,0.09, 54,0.08, 62,0.07, 70,0.06, 80,0.05, 90,0.04, 100,0.03, 110,0.02, 117,0.01, 120,0.00],
  [1,0.69, 2,0.61, 3,0.55, 5,0.49, 7,0.44, 9,0.40, 12,0.36, 15,0.32, 18,0.29, 22,0.26, 26,0.23, 30,0.21, 35,0.19, 40,0.17, 45,0.15, 50,0.14, 56,0.13, 62,0.12, 69,0.11, 76,0.10, 84,0.09, 92,0.08, 100,0.07, 107,0.06, 112,0.04, 116,0.02, 120,0.00],
  [1,0.73, 2,0.60, 5,0.52, 9,0.40, 14,0.30, 20,0.27, 28,0.21, 36,0.17, 46,0.13, 58,0.10, 72,0.08, 88,0.06, 104,0.04, 114,0.02, 118,0.00, 120,0.00],
  [1,0.61, 3,0.48, 6,0.42, 10,0.35, 15,0.28, 22,0.23, 30,0.19, 38,0.15, 48,0.12, 60,0.09, 76,0.07, 92,0.05, 106,0.03, 115,0.01, 120,0.00],
  [1,0.79, 2,0.66, 4,0.58, 7,0.51, 11,0.44, 16,0.36, 22,0.30, 30,0.26, 37,0.22, 44,0.18, 55,0.14, 68,0.12, 82,0.09, 96,0.07, 108,0.05, 115,0.03, 119,0.01, 120,0.00],
  [1,0.54, 2,0.46, 5,0.39, 9,0.32, 14,0.26, 20,0.21, 27,0.17, 35,0.14, 45,0.11, 56,0.09, 70,0.07, 86,0.05, 100,0.04, 110,0.02, 117,0.01, 120,0.00],
  [1,0.67, 2,0.59, 4,0.50, 7,0.44, 11,0.38, 15,0.33, 19,0.29, 24,0.25, 30,0.22, 36,0.20, 44,0.17, 54,0.15, 64,0.13, 76,0.10, 90,0.08, 102,0.06, 110,0.05, 116,0.02, 120,0.00],
  [1,0.75, 2,0.64, 3,0.56, 6,0.48, 10,0.41, 14,0.34, 19,0.28, 25,0.24, 32,0.20, 40,0.16, 50,0.13, 62,0.11, 76,0.09, 90,0.07, 104,0.05, 112,0.04, 117,0.01, 120,0.00],
  [1,0.42, 2,0.36, 5,0.31, 9,0.27, 14,0.22, 20,0.18, 28,0.15, 37,0.12, 48,0.10, 60,0.08, 74,0.06, 90,0.05, 104,0.03, 114,0.02, 120,0.00],
  [1,0.83, 2,0.73, 3,0.65, 5,0.58, 8,0.50, 12,0.43, 16,0.37, 20,0.33, 25,0.29, 31,0.26, 38,0.23, 46,0.20, 56,0.17, 66,0.15, 78,0.13, 90,0.10, 102,0.08, 110,0.06, 115,0.04, 118,0.01, 120,0.00],
  [1,0.59, 2,0.51, 4,0.45, 7,0.38, 11,0.32, 16,0.27, 22,0.22, 29,0.18, 36,0.15, 44,0.12, 54,0.10, 66,0.08, 80,0.06, 95,0.05, 107,0.03, 115,0.01, 120,0.00],
  [1,0.71, 2,0.62, 4,0.56, 6,0.49, 9,0.43, 13,0.38, 17,0.34, 21,0.30, 26,0.26, 32,0.23, 38,0.21, 45,0.19, 52,0.17, 60,0.14, 70,0.12, 82,0.10, 94,0.08, 104,0.06, 111,0.05, 116,0.03, 120,0.00],
  [1,0.47, 2,0.40, 4,0.34, 8,0.29, 12,0.24, 18,0.20, 24,0.16, 32,0.13, 42,0.11, 54,0.09, 68,0.07, 84,0.05, 98,0.04, 110,0.02, 117,0.01, 120,0.00],
  [1,0.68, 2,0.57, 4,0.49, 7,0.43, 10,0.37, 14,0.31, 18,0.26, 23,0.22, 29,0.19, 36,0.16, 44,0.14, 54,0.12, 66,0.10, 80,0.08, 96,0.06, 108,0.04, 115,0.02, 120,0.00],
  [1,0.63, 2,0.54, 3,0.47, 6,0.41, 9,0.35, 13,0.30, 18,0.25, 24,0.21, 31,0.18, 40,0.15, 50,0.13, 62,0.11, 75,0.09, 90,0.07, 104,0.05, 112,0.03, 117,0.01, 120,0.00],
  [1,0.26, 3,0.23, 8,0.21, 14,0.17, 22,0.14, 32,0.12, 44,0.10, 58,0.08, 74,0.06, 90,0.05, 104,0.03, 114,0.02, 120,0.00],
  [1,0.77, 2,0.68, 3,0.61, 5,0.54, 8,0.47, 12,0.40, 17,0.35, 22,0.31, 27,0.27, 33,0.24, 39,0.21, 47,0.18, 56,0.16, 66,0.14, 78,0.12, 90,0.09, 102,0.07, 110,0.05, 116,0.02, 120,0.00]
];

const igoaRuns = [
  [1,0.99, 2,0.97, 4,0.93, 5,0.89, 6,0.86, 7,0.78, 8,0.69, 12,0.69, 13,0.65, 14,0.64, 16,0.61, 17,0.55, 18,0.40, 19,0.22, 20,0.14, 22,0.10, 26,0.05, 30,0.02, 34,0.005, 36,0.00, 120,0.00],
  [1,0.95, 2,0.90, 3,0.84, 4,0.76, 6,0.66, 8,0.56, 9,0.527, 12,0.52, 14,0.46, 15,0.38, 16,0.30, 17,0.22, 18,0.16, 20,0.12, 22,0.106, 30,0.10, 31,0.05, 32,0.01, 34,0.00, 120,0.00],
  [1,0.88, 2,0.80, 3,0.70, 4,0.60, 5,0.50, 6,0.40, 7,0.32, 8,0.25, 9,0.18, 10,0.12, 11,0.07, 12,0.03, 13,0.01, 14,0.00, 120,0.00],
  [1,0.92, 2,0.85, 3,0.76, 4,0.66, 5,0.58, 6,0.50, 8,0.42, 9,0.35, 10,0.28, 11,0.22, 12,0.16, 13,0.11, 14,0.07, 15,0.04, 17,0.02, 19,0.005, 20,0.00, 120,0.00],
  [1,0.137, 2,0.136, 3,0.00, 120,0.00],
  [1,0.97, 2,0.93, 3,0.88, 4,0.82, 5,0.75, 6,0.68, 7,0.60, 8,0.52, 9,0.45, 10,0.38, 11,0.30, 12,0.23, 13,0.17, 14,0.12, 15,0.08, 16,0.05, 18,0.02, 20,0.005, 22,0.00, 120,0.00],
  [1,0.85, 2,0.74, 3,0.62, 4,0.52, 5,0.42, 6,0.33, 7,0.25, 8,0.18, 9,0.12, 10,0.07, 11,0.03, 12,0.01, 13,0.00, 120,0.00],
  [1,0.90, 2,0.86, 3,0.81, 4,0.76, 5,0.70, 6,0.64, 7,0.58, 8,0.51, 9,0.45, 10,0.40, 11,0.35, 12,0.30, 13,0.25, 14,0.20, 15,0.16, 16,0.12, 17,0.09, 18,0.06, 20,0.03, 22,0.01, 24,0.00, 120,0.00],
  [1,0.78, 2,0.66, 3,0.55, 4,0.45, 5,0.36, 6,0.28, 7,0.21, 8,0.15, 9,0.10, 10,0.06, 11,0.03, 13,0.01, 14,0.00, 120,0.00],
  [1,0.94, 2,0.91, 3,0.89, 5,0.87, 6,0.78, 7,0.72, 8,0.65, 9,0.58, 10,0.50, 11,0.42, 12,0.35, 13,0.29, 14,0.24, 15,0.19, 16,0.15, 17,0.12, 18,0.09, 19,0.07, 21,0.05, 23,0.03, 25,0.015, 27,0.005, 28,0.00, 120,0.00],
  [1,0.70, 2,0.58, 3,0.47, 4,0.38, 5,0.30, 6,0.23, 7,0.17, 8,0.12, 9,0.08, 10,0.05, 11,0.02, 12,0.00, 120,0.00],
  [1,0.87, 2,0.80, 3,0.72, 4,0.64, 5,0.57, 6,0.50, 7,0.43, 8,0.37, 9,0.31, 10,0.26, 11,0.21, 12,0.17, 13,0.13, 14,0.10, 15,0.07, 16,0.05, 18,0.03, 20,0.01, 21,0.00, 120,0.00],
  [1,0.96, 2,0.92, 3,0.87, 4,0.80, 5,0.72, 6,0.63, 7,0.54, 8,0.46, 9,0.38, 10,0.31, 11,0.25, 12,0.20, 13,0.15, 14,0.11, 15,0.08, 16,0.06, 17,0.04, 19,0.02, 21,0.005, 23,0.00, 120,0.00],
  [1,0.60, 2,0.50, 3,0.42, 4,0.35, 5,0.28, 6,0.22, 7,0.17, 8,0.13, 9,0.09, 10,0.06, 11,0.04, 12,0.02, 13,0.005, 14,0.00, 120,0.00],
  [1,0.91, 2,0.83, 3,0.74, 4,0.65, 5,0.57, 6,0.49, 7,0.42, 8,0.36, 9,0.31, 10,0.27, 11,0.24, 12,0.21, 13,0.18, 14,0.16, 15,0.14, 16,0.12, 17,0.10, 18,0.08, 19,0.06, 20,0.04, 22,0.02, 24,0.01, 26,0.00, 120,0.00],
  [1,0.82, 2,0.76, 3,0.69, 4,0.62, 5,0.54, 6,0.46, 7,0.38, 8,0.30, 9,0.23, 10,0.17, 11,0.12, 12,0.08, 13,0.05, 14,0.03, 15,0.01, 16,0.00, 120,0.00],
  [1,0.98, 2,0.96, 3,0.94, 4,0.90, 5,0.86, 6,0.80, 7,0.73, 8,0.66, 9,0.59, 10,0.52, 11,0.45, 12,0.38, 13,0.32, 14,0.27, 15,0.22, 16,0.18, 17,0.15, 18,0.12, 19,0.10, 20,0.08, 21,0.06, 23,0.04, 25,0.02, 27,0.01, 29,0.00, 120,0.00],
  [1,0.74, 2,0.63, 3,0.53, 4,0.44, 5,0.36, 6,0.29, 7,0.23, 8,0.19, 9,0.15, 10,0.12, 11,0.09, 12,0.07, 13,0.05, 14,0.03, 16,0.01, 17,0.00, 120,0.00],
  [1,0.89, 2,0.84, 3,0.79, 4,0.73, 5,0.66, 6,0.59, 7,0.52, 8,0.46, 9,0.40, 10,0.35, 11,0.30, 12,0.26, 13,0.22, 14,0.19, 15,0.16, 16,0.13, 17,0.11, 18,0.09, 19,0.07, 20,0.05, 22,0.03, 25,0.01, 28,0.00, 120,0.00],
  [1,0.93, 2,0.88, 3,0.82, 4,0.75, 5,0.67, 6,0.58, 7,0.49, 8,0.41, 9,0.33, 10,0.26, 11,0.20, 12,0.15, 13,0.11, 14,0.08, 15,0.05, 17,0.03, 19,0.01, 20,0.00, 120,0.00],
  [1,0.66, 2,0.58, 3,0.50, 4,0.43, 5,0.37, 6,0.31, 7,0.26, 8,0.21, 9,0.17, 10,0.13, 11,0.10, 12,0.07, 13,0.05, 14,0.03, 15,0.015, 16,0.00, 120,0.00],
  [1,0.86, 2,0.78, 3,0.70, 4,0.61, 5,0.52, 6,0.44, 7,0.36, 8,0.29, 9,0.23, 10,0.18, 11,0.14, 12,0.11, 13,0.08, 14,0.06, 15,0.04, 17,0.02, 19,0.005, 20,0.00, 120,0.00],
  [1,0.99, 2,0.98, 3,0.95, 4,0.91, 5,0.85, 6,0.78, 7,0.70, 8,0.62, 9,0.55, 10,0.48, 11,0.42, 12,0.36, 13,0.31, 14,0.27, 15,0.24, 16,0.22, 17,0.20, 19,0.18, 20,0.17, 21,0.165, 22,0.13, 23,0.10, 24,0.07, 25,0.05, 27,0.03, 29,0.01, 31,0.00, 120,0.00],
  [1,0.55, 2,0.45, 3,0.36, 4,0.28, 5,0.21, 6,0.15, 7,0.10, 8,0.06, 9,0.03, 10,0.01, 11,0.00, 120,0.00],
  [1,0.92, 2,0.89, 3,0.85, 4,0.80, 5,0.74, 6,0.68, 7,0.62, 8,0.55, 9,0.48, 10,0.42, 11,0.36, 12,0.30, 13,0.25, 14,0.20, 15,0.16, 16,0.13, 17,0.10, 18,0.08, 20,0.06, 22,0.04, 24,0.02, 26,0.01, 28,0.00, 120,0.00],
  [1,0.79, 2,0.71, 3,0.62, 4,0.54, 5,0.46, 6,0.39, 7,0.32, 8,0.26, 9,0.21, 10,0.16, 11,0.12, 12,0.09, 13,0.06, 14,0.04, 15,0.02, 17,0.005, 18,0.00, 120,0.00],
  [1,0.96, 2,0.94, 3,0.91, 4,0.87, 5,0.82, 6,0.76, 7,0.69, 8,0.61, 9,0.53, 10,0.45, 11,0.37, 12,0.30, 13,0.24, 14,0.19, 15,0.15, 16,0.12, 17,0.09, 18,0.07, 19,0.05, 21,0.03, 23,0.015, 25,0.005, 26,0.00, 120,0.00],
  [1,0.84, 2,0.72, 3,0.60, 4,0.48, 5,0.38, 6,0.29, 7,0.20, 8,0.13, 9,0.08, 10,0.04, 11,0.015, 12,0.00, 120,0.00],
  [1,0.90, 2,0.87, 3,0.83, 4,0.78, 5,0.72, 6,0.66, 7,0.60, 8,0.54, 9,0.48, 10,0.43, 11,0.38, 12,0.33, 13,0.28, 14,0.23, 15,0.19, 16,0.15, 17,0.12, 18,0.09, 19,0.07, 20,0.05, 21,0.04, 23,0.02, 26,0.01, 30,0.00, 120,0.00],
  [1,0.72, 2,0.20, 3,0.18, 5,0.15, 7,0.12, 9,0.09, 11,0.06, 13,0.04, 15,0.02, 17,0.00, 120,0.00],
  [1,0.81, 2,0.73, 3,0.64, 4,0.55, 5,0.47, 6,0.39, 7,0.31, 8,0.24, 9,0.18, 10,0.13, 11,0.09, 12,0.06, 13,0.04, 14,0.02, 15,0.00, 120,0.00],
  [1,0.95, 2,0.91, 3,0.86, 4,0.80, 5,0.73, 6,0.65, 7,0.57, 8,0.49, 9,0.41, 10,0.34, 11,0.28, 12,0.22, 13,0.17, 14,0.13, 15,0.10, 16,0.07, 17,0.05, 18,0.03, 20,0.01, 21,0.00, 120,0.00],
  [1,0.68, 2,0.56, 3,0.45, 4,0.36, 5,0.28, 6,0.21, 7,0.15, 8,0.10, 9,0.06, 10,0.03, 11,0.01, 12,0.00, 120,0.00],
  [1,0.88, 2,0.83, 3,0.77, 4,0.70, 5,0.63, 6,0.56, 7,0.49, 8,0.43, 9,0.37, 10,0.32, 11,0.27, 12,0.23, 13,0.19, 14,0.16, 15,0.13, 16,0.10, 17,0.08, 18,0.06, 19,0.04, 21,0.02, 23,0.01, 25,0.00, 120,0.00],
  [1,0.76, 2,0.67, 3,0.58, 4,0.49, 5,0.40, 6,0.32, 7,0.25, 8,0.19, 9,0.14, 10,0.10, 11,0.07, 12,0.04, 13,0.02, 14,0.00, 120,0.00],
  [1,0.97, 2,0.95, 3,0.92, 4,0.88, 5,0.83, 6,0.77, 7,0.70, 8,0.63, 9,0.56, 10,0.49, 11,0.43, 12,0.37, 13,0.31, 14,0.26, 15,0.21, 16,0.17, 17,0.13, 18,0.10, 19,0.08, 20,0.06, 22,0.04, 24,0.02, 26,0.01, 28,0.00, 120,0.00],
  [1,0.63, 2,0.53, 3,0.44, 4,0.35, 5,0.27, 6,0.20, 7,0.14, 8,0.09, 9,0.05, 10,0.02, 11,0.00, 120,0.00],
  [1,0.85, 2,0.79, 3,0.72, 4,0.65, 5,0.58, 6,0.51, 7,0.44, 8,0.37, 9,0.31, 10,0.25, 11,0.20, 12,0.16, 13,0.12, 14,0.09, 15,0.06, 16,0.04, 18,0.02, 20,0.00, 120,0.00],
  [1,0.92, 2,0.86, 3,0.79, 4,0.71, 5,0.62, 6,0.53, 7,0.45, 8,0.38, 9,0.32, 10,0.26, 11,0.21, 12,0.17, 13,0.14, 14,0.11, 15,0.08, 16,0.06, 17,0.04, 19,0.02, 22,0.00, 120,0.00],
  [1,0.73, 2,0.64, 3,0.55, 4,0.47, 5,0.39, 6,0.32, 7,0.26, 8,0.20, 9,0.15, 10,0.11, 11,0.08, 12,0.05, 13,0.03, 15,0.01, 16,0.00, 120,0.00],
  [1,0.99, 2,0.97, 3,0.93, 4,0.88, 5,0.82, 6,0.75, 7,0.68, 8,0.60, 9,0.52, 10,0.45, 11,0.38, 12,0.32, 13,0.26, 14,0.21, 15,0.17, 16,0.14, 17,0.11, 18,0.09, 20,0.07, 22,0.05, 24,0.03, 26,0.02, 29,0.005, 32,0.00, 120,0.00],
  [1,0.58, 2,0.48, 3,0.39, 4,0.31, 5,0.24, 6,0.18, 7,0.13, 8,0.09, 9,0.06, 10,0.03, 11,0.01, 12,0.00, 120,0.00],
  [1,0.90, 2,0.85, 3,0.80, 4,0.74, 5,0.68, 6,0.62, 7,0.55, 8,0.48, 9,0.42, 10,0.36, 11,0.31, 12,0.26, 13,0.21, 14,0.17, 15,0.14, 16,0.11, 17,0.08, 18,0.06, 19,0.04, 21,0.02, 24,0.005, 26,0.00, 120,0.00],
  [1,0.80, 2,0.70, 3,0.60, 4,0.51, 5,0.43, 6,0.36, 7,0.30, 8,0.24, 9,0.19, 10,0.15, 11,0.11, 12,0.08, 13,0.06, 14,0.04, 16,0.02, 18,0.00, 120,0.00],
  [1,0.94, 2,0.90, 3,0.85, 4,0.79, 5,0.72, 6,0.64, 7,0.56, 8,0.48, 9,0.41, 10,0.35, 11,0.29, 12,0.24, 13,0.20, 14,0.16, 15,0.13, 16,0.10, 17,0.08, 18,0.06, 19,0.05, 20,0.04, 22,0.03, 24,0.02, 27,0.01, 30,0.00, 120,0.00]
];

// average curves of panel (e): [iteration, value, ...]
const meanGWO = [0,1.00, 1,0.95, 2.5,0.86, 4,0.78, 6,0.70, 8,0.62, 10,0.56, 12.6,0.52, 15,0.485, 17,0.46, 19.3,0.43, 22.6,0.40, 26,0.374, 30,0.355, 33,0.34, 36,0.333, 39,0.31, 44,0.30, 48,0.284, 53,0.277, 57,0.245, 60,0.237, 64,0.225, 67,0.21, 70.5,0.205, 75,0.19, 79.4,0.183, 84,0.167, 88.4,0.156, 92.8,0.141, 97.3,0.131, 101.7,0.116, 106,0.104, 108,0.095, 110.6,0.078, 113,0.065, 115,0.052, 117,0.036, 118.5,0.022, 120,0.005];
const meanPSO = [0,1.00, 0.6,0.98, 1.4,0.81, 2.6,0.68, 3.7,0.59, 5.3,0.51, 7,0.44, 9.2,0.38, 11.5,0.34, 14.8,0.29, 18.2,0.25, 21.5,0.225, 24.8,0.20, 28.2,0.166, 32.6,0.14, 37.1,0.126, 41.6,0.111, 46,0.101, 50.5,0.091, 54.9,0.079, 59.4,0.071, 63.8,0.061, 68.3,0.055, 72.8,0.049, 77.2,0.042, 81.7,0.035, 86.1,0.029, 90.6,0.025, 95,0.02, 99.5,0.017, 104,0.013, 108.4,0.01, 112.9,0.008, 117.4,0.006, 120,0.004];
const meanGOA = [0,1.00, 1,0.97, 2.6,0.83, 4.8,0.73, 7,0.64, 9.2,0.57, 11.5,0.49, 14.8,0.42, 18.2,0.374, 21.5,0.324, 25.9,0.284, 30.4,0.245, 34.9,0.22, 39.3,0.195, 43.8,0.175, 48.2,0.156, 52.7,0.139, 57.2,0.121, 61.6,0.106, 66,0.096, 70.5,0.083, 75,0.076, 79.4,0.066, 83.9,0.055, 88.4,0.049, 92.8,0.042, 97.3,0.034, 101.7,0.027, 106.2,0.02, 110.6,0.015, 115,0.009, 118.5,0.002, 120,0.0];
const meanIGOA = [0,1.00, 1.4,0.88, 2.6,0.74, 3.7,0.61, 4.8,0.51, 5.9,0.41, 7,0.34, 8.7,0.27, 10.9,0.18, 12.6,0.146, 14.3,0.106, 15.9,0.066, 17.6,0.047, 19.3,0.027, 21.5,0.015, 24.8,0.009, 28.2,0.005, 32.6,0.002, 40,0.0, 120,0.0];

const legendLabels = [": GWO-BP；", ": PSO-BP；", ": GOA-BP；", ": IGOA-BP。"];

const captionsCn = [
  "(a)  GWO-BP 100次实验收敛曲线",
  "(b)  PSO-BP 100次实验收敛曲线",
  "(c)  GOA-BP 100次实验收敛曲线",
  "(d)  IGOA-BP 100次实验收敛曲线",
  "(e) 4种算法100次实验平均收敛曲线"
];
const captionsEn = [
  "(a)  Convergence curve of GWO-BP over 100 experiments",
  "(b)  Convergence curve of PSO-BP over 100 experiments",
  "(c)  Convergence curve of GOA-BP over 100 experiments",
  "(d)  Convergence curve of IGOA-BP over 100 experiments",
  "(e) Average convergence curves of the four algorithms"
];
const captionEnExtra = "over 100 experiments";

const yTitle = "归一化 fitness 值";
const xTitle = "迭代次数";

// ---------- layout ----------
const panelTops = [34, 1255, 2497, 3728, 4957];
const plotLeft = 288, plotRight = 1371, plotH = 885;
const serif = "'Liberation Serif','Times New Roman',serif";
const mixed = "'Liberation Serif','Noto Sans CJK SC',serif";
const cjk = "'Noto Sans CJK SC',sans-serif";

const C_GWO = "#3fa071", C_PSO = "#3b5b9e", C_GOA = "#f28a26", C_IGOA = "#c02f3e";

const svg = d3.select("#chart");
svg.append("rect").attr("width", 1575).attr("height", 6325).attr("fill", "#fff");

const x = d3.scaleLinear().domain([0, 120]).range([plotLeft, plotRight]);
const y = d3.scaleLinear().domain([0, 1]).range([plotH, 0]);

function pairs(flat) {
  const out = [];
  for (let i = 0; i < flat.length; i += 2) out.push([flat[i], flat[i + 1]]);
  return out;
}

// value holds until the iteration before the next step, then drops
function stepPoints(run) {
  const pts = [];
  for (let i = 0; i < run.length; i += 2) {
    const xa = run[i], ya = run[i + 1];
    pts.push([xa, ya]);
    if (i + 2 < run.length) {
      const xb = run[i + 2];
      if (xb - 1 > xa) pts.push([xb - 1, ya]);
    } else if (xa < 120) {
      pts.push([120, ya]);
    }
  }
  return pts;
}

const line = d3.line().x(d => x(d[0])).y(d => y(d[1]));

function drawFrame(g) {
  // grid
  g.append("g").selectAll("line")
    .data(xTicks.slice(1, -1))
    .join("line")
    .attr("x1", d => x(d)).attr("x2", d => x(d))
    .attr("y1", 0).attr("y2", plotH)
    .attr("stroke", "#e4e4e4").attr("stroke-width", 2.2);
  g.append("g").selectAll("line")
    .data(yTicks.slice(1, -1))
    .join("line")
    .attr("x1", plotLeft).attr("x2", plotRight)
    .attr("y1", d => y(d)).attr("y2", d => y(d))
    .attr("stroke", "#e4e4e4").attr("stroke-width", 2.2);

  // axes, ticks pointing inward
  const ax = g.append("g").attr("transform", `translate(0,${plotH})`)
    .call(d3.axisBottom(x).tickValues(xTicks).tickFormat(d3.format("d")).tickSize(-10).tickPadding(23));
  const ay = g.append("g").attr("transform", `translate(${plotLeft},0)`)
    .call(d3.axisLeft(y).tickValues(yTicks).tickFormat((d, i) => yTickLabels[i]).tickSize(-10).tickPadding(21));
  const at = g.append("g")
    .call(d3.axisTop(x).tickValues(xTicks).tickFormat("").tickSize(-10));
  const ar = g.append("g").attr("transform", `translate(${plotRight},0)`)
    .call(d3.axisRight(y).tickValues(yTicks).tickFormat("").tickSize(-10));
  [ax, ay, at, ar].forEach(a => {
    a.select(".domain").remove();
    a.attr("font-family", serif).attr("font-size", 50).style("color", "#111");
    a.selectAll(".tick line").attr("stroke-width", 2.4);
    a.selectAll("text").attr("fill", "#111");
  });
  ay.selectAll("text").attr("dy", "0.19em");

  g.append("rect")
    .attr("x", plotLeft).attr("y", 0)
    .attr("width", plotRight - plotLeft).attr("height", plotH)
    .attr("fill", "none").attr("stroke", "#111").attr("stroke-width", 2.6);

  // axis titles
  g.append("text")
    .attr("transform", `translate(157,${plotH / 2}) rotate(-90)`)
    .attr("text-anchor", "middle")
    .attr("dominant-baseline", "central")
    .attr("font-family", mixed).attr("font-size", 51).attr("fill", "#111")
    .text(yTitle);
  g.append("text")
    .attr("x", (plotLeft + plotRight) / 2 + 1).attr("y", plotH + 137)
    .attr("text-anchor", "middle")
    .attr("font-family", cjk).attr("font-size", 51).attr("fill", "#111")
    .text(xTitle);
}

function drawCaption(g, i, cnY, enY) {
  g.append("text")
    .attr("x", 829).attr("y", cnY)
    .attr("text-anchor", "middle").style("white-space", "pre")
    .attr("font-family", mixed).attr("font-size", 50).attr("fill", "#111")
    .text(captionsCn[i]);
  g.append("text")
    .attr("x", 829).attr("y", enY)
    .attr("text-anchor", "middle").style("white-space", "pre")
    .attr("font-family", serif).attr("font-size", 50).attr("fill", "#111")
    .text(captionsEn[i]);
}

// ---------- panels (a)-(d) ----------
const runPanels = [
  { runs: gwoRuns, color: C_GWO },
  { runs: psoRuns, color: C_PSO },
  { runs: goaRuns, color: C_GOA },
  { runs: igoaRuns, color: C_IGOA }
];

runPanels.forEach((p, i) => {
  const g = svg.append("g").attr("transform", `translate(0,${panelTops[i]})`);
  drawFrame(g);
  g.append("g").selectAll("path")
    .data(p.runs)
    .join("path")
    .attr("d", r => line(stepPoints(r)))
    .attr("fill", "none")
    .attr("stroke", p.color)
    .attr("stroke-width", 2.7)
    .attr("stroke-linejoin", "round");
  drawCaption(g, i, plotH + 206, plotH + 270);
});

// ---------- panel (e) ----------
const ge = svg.append("g").attr("transform", `translate(0,${panelTops[4]})`);
drawFrame(ge);

const meanSeries = [
  { data: meanGWO, color: "#3da26f", width: 12, dash: "25 6.4 12.7 6.4" },
  { data: meanPSO, color: "#3a5a9c", width: 12, dash: "6 6.8" },
  { data: meanGOA, color: "#f28a28", width: 12, dash: "25.5 25.3" },
  { data: meanIGOA, color: "#b5303d", width: 3, dash: null }
];

ge.append("g").selectAll("path")
  .data(meanSeries)
  .join("path")
  .attr("d", s => line(pairs(s.data)))
  .attr("fill", "none")
  .attr("stroke", s => s.color)
  .attr("stroke-width", s => s.width)
  .attr("stroke-dasharray", s => s.dash)
  .attr("stroke-linejoin", "round");

// legend: two rows, two entries each
const legendPos = [
  { x: 411, row: 0 }, { x: 819, row: 0 },
  { x: 411, row: 1 }, { x: 819, row: 1 }
];
const lg = ge.append("g");
meanSeries.forEach((s, k) => {
  const pos = legendPos[k];
  const ly = plotH + 190 + pos.row * 68;
  lg.append("line")
    .attr("x1", pos.x).attr("x2", pos.x + 128)
    .attr("y1", ly).attr("y2", ly)
    .attr("stroke", s.color)
    .attr("stroke-width", s.width === 3 ? 3 : 12.5)
    .attr("stroke-dasharray", s.dash);
  lg.append("text")
    .attr("x", pos.x + 137).attr("y", ly + 15)
    .style("white-space", "pre")
    .attr("font-family", mixed).attr("font-size", 50).attr("fill", "#111")
    .text(legendLabels[k]);
});

ge.append("text")
  .attr("x", 827).attr("y", plotH + 340)
  .attr("text-anchor", "middle").style("white-space", "pre")
  .attr("font-family", mixed).attr("font-size", 50).attr("fill", "#111")
  .text(captionsCn[4]);
ge.append("text")
  .attr("x", 829).attr("y", plotH + 404)
  .attr("text-anchor", "middle").style("white-space", "pre")
  .attr("font-family", serif).attr("font-size", 50).attr("fill", "#111")
  .text(captionsEn[4]);
ge.append("text")
  .attr("x", 331).attr("y", plotH + 455)
  .attr("font-family", serif).attr("font-size", 50).attr("fill", "#111")
  .text(captionEnExtra);
</script>
</body>
</html>
